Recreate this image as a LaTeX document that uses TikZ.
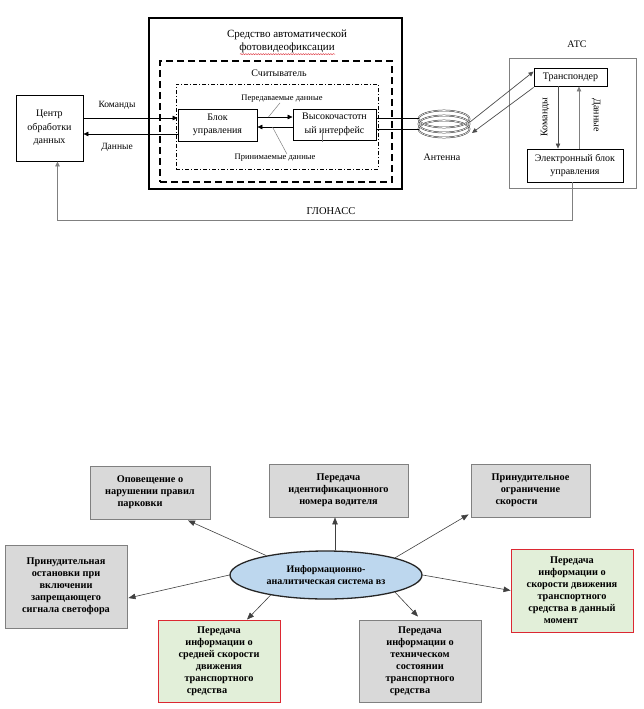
\documentclass[tikz,border=0pt]{standalone}
\usepackage{fontspec}
\setmainfont{Liberation Serif}
\usetikzlibrary{arrows.meta,calc,shapes.geometric,decorations.pathmorphing}
\definecolor{boxgray}{RGB}{217,217,217}
\definecolor{edgegray}{RGB}{128,128,128}
\definecolor{boxgreen}{RGB}{226,239,217}
\definecolor{edgered}{RGB}{220,40,50}
\definecolor{ovalblue}{RGB}{189,215,238}
\begin{document}
\begin{tikzpicture}
[x=1pt,y=-1pt,
  boxdecorate/.style={shape=rectangle,draw,line width=0.9pt,align=center,inner sep=1pt,font=\fontsize{10}{13.5}\selectfont},
  framedecorate/.style={shape=rectangle,draw,inner sep=0pt},
  textdecorate/.style={inner sep=0pt,align=center,font=\fontsize{10}{13}\selectfont},
  smalldecorate/.style={inner sep=0pt,font=\fontsize{8.5}{10}\selectfont},
  linedecorate/.style={-{Triangle[length=5pt,width=4.5pt]},line width=0.6pt},
  graylinedecorate/.style={-{Triangle[length=5pt,width=4.5pt]},line width=0.7pt,draw=edgegray},
  leaderdecorate/.style={-,line width=0.5pt,draw=edgegray},
  wiredecorate/.style={-,line width=1pt},
  coildecorate/.style={line width=0.5pt,draw=black!80,double=white,double distance=0.6pt},
  graybox/.style={shape=rectangle,draw=edgegray,line width=0.9pt,fill=boxgray,align=center,inner sep=1pt,font=\bfseries\fontsize{10.3}{12}\selectfont},
  greenbox/.style={graybox,draw=edgered,fill=boxgreen},
  ovaldecorate/.style={shape=ellipse,draw=black!85,line width=1.3pt,fill=ovalblue,align=center,inner sep=0pt,font=\bfseries\fontsize{10}{12}\selectfont},
  arrowdecorate/.style={-{Triangle[length=7pt,width=5.5pt]},line width=0.6pt,draw=black!75}]
\useasboundingbox (0,0) rectangle (643,709);
%% frames of the upper scheme
\node (sredstvo) at (275.5,103.5) [framedecorate,line width=1.3pt,minimum width=253,minimum height=171] {};
\node (sredstvotitle) at (287,41.5) [textdecorate,font=\fontsize{11}{13}\selectfont] {Средство автоматической\\фотовидеофиксации};
\draw[edgered,line width=0.4pt,decorate,decoration={snake,amplitude=0.6pt,segment length=2.5pt}]
  ($(sredstvotitle.south)+(-47,1)$) -- ++(95,0);
\node (schit) at (276,121.5) [framedecorate,line width=1.1pt,dash pattern=on 7pt off 4pt,minimum width=232,minimum height=121] {};
\node (schittitle) at (279,73) [textdecorate] {Считыватель};
\node (inner) at (277,126.5) [framedecorate,line width=0.8pt,dash pattern=on 4pt off 2pt on 1pt off 2pt,minimum width=202,minimum height=85] {};
\node (atc) at (572.5,123) [framedecorate,draw=edgegray,line width=0.8pt,minimum width=127,minimum height=130] {};
\node (atctitle) at (577,44) [textdecorate] {АТС};
%% blocks
\node (centr) at (49.5,128) [boxdecorate,minimum width=67,minimum height=66] {Центр\\обработки\\данных};
\node (blok) at (217.5,125) [boxdecorate,minimum width=79,minimum height=32] {Блок\\управления};
\node (vch) at (334.5,124.5) [boxdecorate,minimum width=83,minimum height=31] {Высокочастотн\\ый интерфейс};
\node (transp) at (570.5,77) [boxdecorate,minimum width=73,minimum height=18] {Транспондер};
\node (ebu) at (575,165.5) [boxdecorate,minimum width=96,minimum height=33] {Электронный блок\\управления};
%% antenna
\coordinate (ant) at (444,124);
\foreach \dy in {5,0,-5} {
  \draw[coildecorate] ($(ant)+(0,\dy)$) ellipse [x radius=25.5pt,y radius=8.5pt];
}
\node (anttitle) at (442,157) [textdecorate] {Антенна};
%% labels
\node (komandy) at (117,105) [textdecorate,font=\fontsize{9.5}{11}\selectfont] {Команды};
\node (dannye) at (117,147) [textdecorate,font=\fontsize{9.5}{11}\selectfont] {Данные};
\node (peredav) at (282,99) [smalldecorate] {Передаваемые данные};
\node (prinim) at (275,158) [smalldecorate] {Принимаемые данные};
\node (komatc) at (545,117) [textdecorate,rotate=90] {Команды};
\node (danatc) at (596,115) [textdecorate,rotate=-90] {Данные};
\node (glonass) at (331,211) [textdecorate,font=\fontsize{10.5}{13}\selectfont] {ГЛОНАСС};
%% edges or lines
\path
($(centr.east)+(0,-10)$) edge[linedecorate] ($(blok.west)+(0,-7)$)
($(blok.west)+(0,9)$) edge[linedecorate] ($(centr.east)+(0,6)$)
($(blok.east)+(0,-8)$) edge[linedecorate] ($(vch.west)+(0,-7.5)$)
($(vch.west)+(0,2.5)$) edge[linedecorate] ($(blok.east)+(0,2)$)
($(peredav.south)+(-2,0)$) edge[leaderdecorate] ($(blok.east)+(11,-8)$)
($(blok.east)+(15,2)$) edge[leaderdecorate] ($(prinim.north)+(12,0)$)
($(vch.south)+(-12.5,-8.5)$) edge[leaderdecorate] ($(vch.south)+(-12.5,1.5)$)
($(vch.east)+(0,-6.5)$) edge[wiredecorate] ($(ant)+(-25,-6)$)
($(vch.east)+(0,4.5)$) edge[wiredecorate] ($(ant)+(-25,5)$)
($(ant)+(26,-2)$) edge[graylinedecorate,draw=black!70] ($(transp.north west)+(0,4)$)
($(transp.south west)+(0,1)$) edge[graylinedecorate,draw=black!70] ($(ant)+(28,9)$)
($(transp.south)+(-12.5,0)$) edge[linedecorate,draw=black!70] ($(ebu.north)+(-17,0)$)
($(ebu.north)+(4,0)$) edge[graylinedecorate] ($(transp.south)+(8.5,0)$);
\draw[graylinedecorate] ($(ebu.south)+(-3,0)$) -- ++(0,38) -| ($(centr.south)+(8,0)$);
%% lower scheme
\node (isys) at (326,575) [ovaldecorate,minimum width=192,minimum height=48] {Информационно-\\аналитическая система вз};
\foreach \nodename/\x/\y/\w/\h/\txt in {
  b1/150/492.5/120/53/{Оповещение о\\нарушении правил\\\hspace*{-20pt}парковки},
  b2/338.5/490.5/139/53/{Передача\\идентификационного\\номера водителя},
  b3/530.5/490.5/119/53/{Принудительное\\ограничение\\\hspace*{-28pt}скорости},
  b4/66/586.5/122/83/{Принудительная\\остановки при\\включении\\запрещающего\\сигнала светофора},
  b6/420/661/122/82/{Передача\\информации о\\техническом\\состоянии\\транспортного\\\hspace*{-20pt}средства}} {
  \node (\nodename) at (\x,\y) [graybox,minimum width=\w,minimum height=\h] {\txt};
}
\foreach \nodename/\x/\y/\w/\h/\txt in {
  b5/219/661/122/82/{Передача\\информации о\\средней скорости\\движения\\транспортного\\\hspace*{-24pt}средства},
  b7/572/590.5/122/83/{Передача\\информации о\\скорости движения\\транспортного\\средства в данный\\\hspace*{-22pt}момент}} {
  \node (\nodename) at (\x,\y) [greenbox,minimum width=\w,minimum height=\h] {\txt};
}
\path
(isys.162) edge[arrowdecorate] ($(b1.south)+(38,1)$)
($(isys.north)+(9,0)$) edge[arrowdecorate] ($(b2.south)+(-3.5,0)$)
(isys.14) edge[arrowdecorate] ($(b3.south west)+(-2,-3)$)
(isys.west) edge[arrowdecorate] ($(b4.east)+(1,11.5)$)
(isys.200) edge[arrowdecorate] ($(b5.north)+(28,0)$)
(isys.346) edge[arrowdecorate] ($(b6.north)+(-2,-3)$)
(isys.east) edge[arrowdecorate] (b7.west);
\end{tikzpicture}
\end{document}
